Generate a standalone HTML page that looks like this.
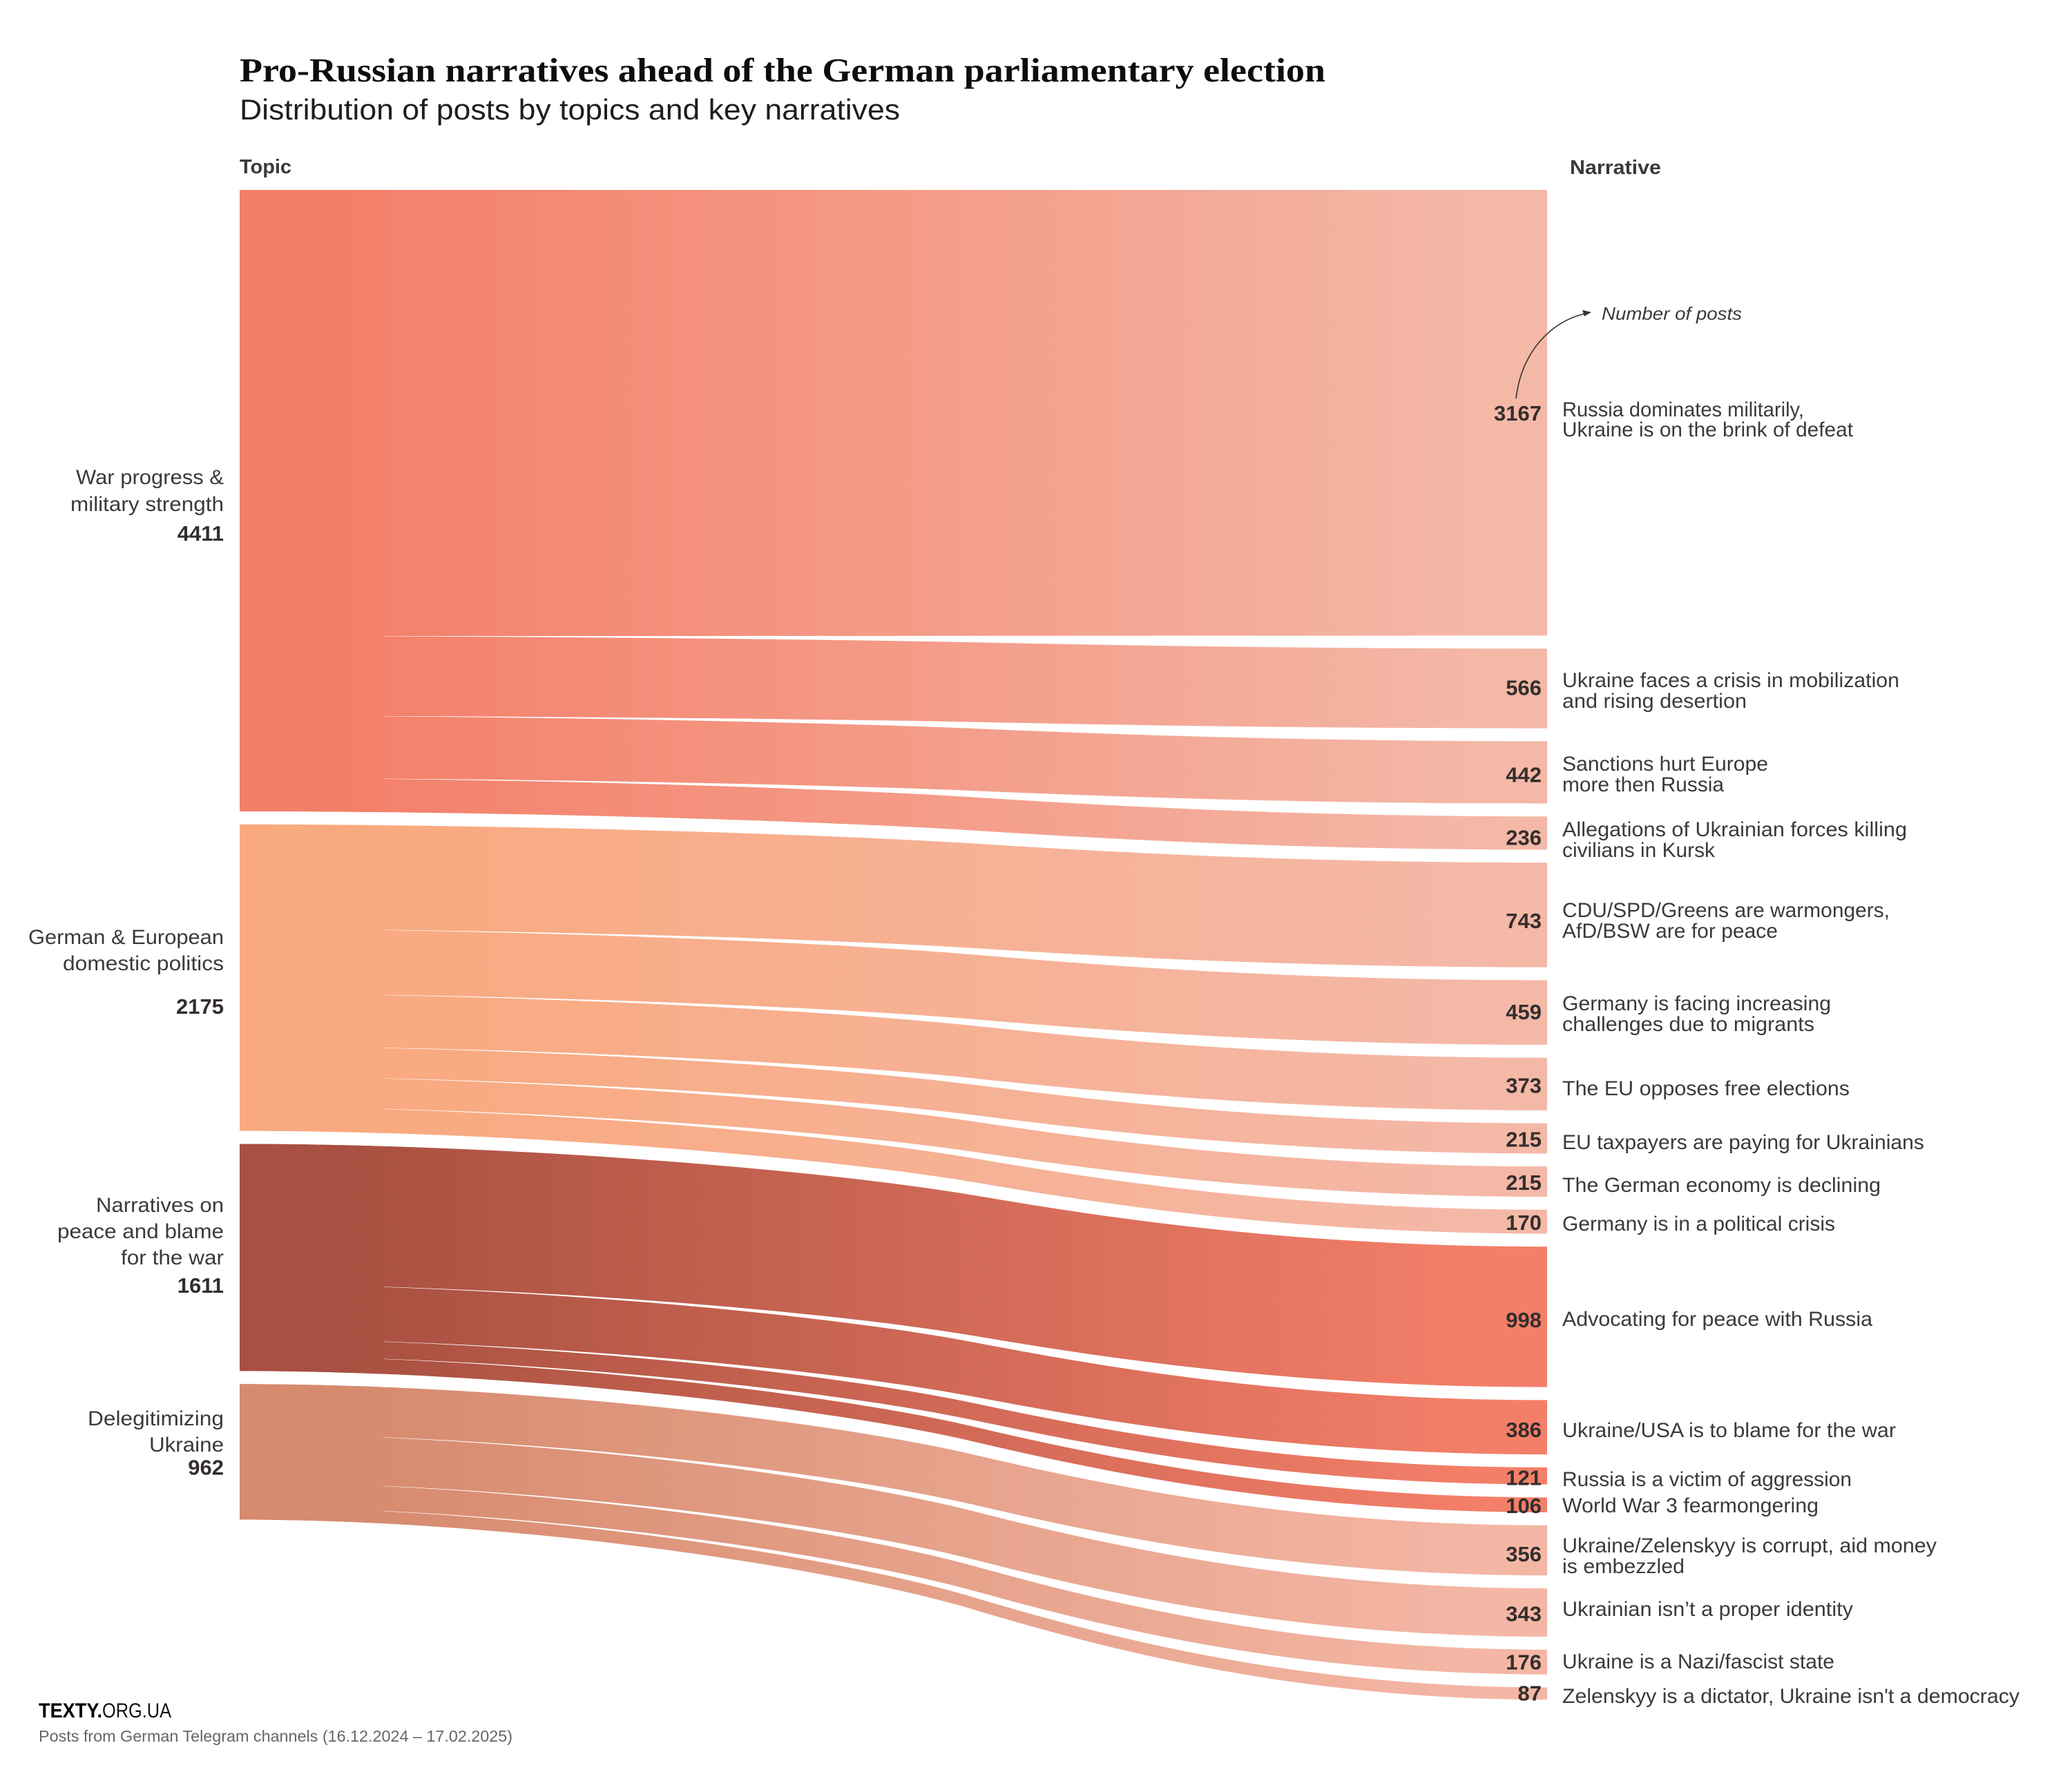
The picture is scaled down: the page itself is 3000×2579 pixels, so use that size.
<!DOCTYPE html>
<html lang="en">
<head>
<meta charset="utf-8">
<title>Pro-Russian narratives ahead of the German parliamentary election</title>
<style>
html,body{margin:0;padding:0;background:#fff;}
svg{display:block;}
text{font-family:"Liberation Sans",sans-serif;fill:#3a3a3a;}
.nar{font-size:29.5px;}
.topic{font-size:30px;text-anchor:end;}
.val{font-size:31px;font-weight:700;text-anchor:end;fill:#332e2c;}
</style>
</head>
<body>
<svg id="chart" xmlns="http://www.w3.org/2000/svg" width="3000" height="2579" viewBox="0 0 3000 2579">
  <defs>
    <clipPath id="node-clip"><rect x="340" y="200" width="215" height="2300"/></clipPath>
    <linearGradient id="grad-0" gradientUnits="userSpaceOnUse" x1="347" y1="0" x2="2240" y2="0">
      <stop offset="0.08" stop-color="#f47f69"/><stop offset="0.95" stop-color="#f4b8a7"/>
    </linearGradient>
    <linearGradient id="grad-1" gradientUnits="userSpaceOnUse" x1="347" y1="0" x2="2240" y2="0">
      <stop offset="0.08" stop-color="#f9a97e"/><stop offset="0.95" stop-color="#f4b8a7"/>
    </linearGradient>
    <linearGradient id="grad-2" gradientUnits="userSpaceOnUse" x1="347" y1="0" x2="2240" y2="0">
      <stop offset="0.08" stop-color="#a85041"/><stop offset="0.95" stop-color="#f47f69"/>
    </linearGradient>
    <linearGradient id="grad-3" gradientUnits="userSpaceOnUse" x1="347" y1="0" x2="2240" y2="0">
      <stop offset="0.08" stop-color="#d68a6e"/><stop offset="0.95" stop-color="#f4b7a5"/>
    </linearGradient>
  </defs>

  <text x="347" y="118" font-size="48.5" font-weight="700" textLength="1572" lengthAdjust="spacingAndGlyphs" style="font-family:'Liberation Serif',serif;fill:#0d0d0d">Pro-Russian narratives ahead of the German parliamentary election</text>
  <text x="347" y="173" font-size="42" textLength="956" lengthAdjust="spacingAndGlyphs" style="fill:#1e1e1e">Distribution of posts by topics and key narratives</text>
  <text x="347" y="251" font-size="29" font-weight="700" textLength="75" lengthAdjust="spacingAndGlyphs">Topic</text>
  <text x="2273" y="252" font-size="29" font-weight="700" textLength="132" lengthAdjust="spacingAndGlyphs">Narrative</text>

  <g id="links"></g>
  <g id="nodes" clip-path="url(#node-clip)"></g>
  <g id="values"></g>

  <g>
    <text class="topic" x="324" y="701" textLength="214" lengthAdjust="spacingAndGlyphs">War progress &amp;</text>
    <text class="topic" x="324" y="740" textLength="222" lengthAdjust="spacingAndGlyphs">military strength</text>
    <text class="topic" x="324" y="1367" textLength="283" lengthAdjust="spacingAndGlyphs">German &amp; European</text>
    <text class="topic" x="324" y="1405" textLength="233" lengthAdjust="spacingAndGlyphs">domestic politics</text>
    <text class="topic" x="324" y="1755" textLength="185" lengthAdjust="spacingAndGlyphs">Narratives on</text>
    <text class="topic" x="324" y="1793" textLength="241" lengthAdjust="spacingAndGlyphs">peace and blame</text>
    <text class="topic" x="324" y="1831" textLength="149" lengthAdjust="spacingAndGlyphs">for the war</text>
    <text class="topic" x="324" y="2064" textLength="197" lengthAdjust="spacingAndGlyphs">Delegitimizing</text>
    <text class="topic" x="324" y="2102" textLength="108" lengthAdjust="spacingAndGlyphs">Ukraine</text>
  </g>

  <g>
    <text class="nar" x="2262" y="603" textLength="350" lengthAdjust="spacingAndGlyphs">Russia dominates militarily,</text>
    <text class="nar" x="2262" y="632" textLength="421" lengthAdjust="spacingAndGlyphs">Ukraine is on the brink of defeat</text>
    <text class="nar" x="2262" y="995" textLength="488" lengthAdjust="spacingAndGlyphs">Ukraine faces a crisis in mobilization</text>
    <text class="nar" x="2262" y="1025" textLength="267" lengthAdjust="spacingAndGlyphs">and rising desertion</text>
    <text class="nar" x="2262" y="1116" textLength="298" lengthAdjust="spacingAndGlyphs">Sanctions hurt Europe</text>
    <text class="nar" x="2262" y="1146" textLength="234" lengthAdjust="spacingAndGlyphs">more then Russia</text>
    <text class="nar" x="2262" y="1211" textLength="499" lengthAdjust="spacingAndGlyphs">Allegations of Ukrainian forces killing</text>
    <text class="nar" x="2262" y="1241" textLength="221" lengthAdjust="spacingAndGlyphs">civilians in Kursk</text>
    <text class="nar" x="2262" y="1328" textLength="474" lengthAdjust="spacingAndGlyphs">CDU/SPD/Greens are warmongers,</text>
    <text class="nar" x="2262" y="1358" textLength="312" lengthAdjust="spacingAndGlyphs">AfD/BSW are for peace</text>
    <text class="nar" x="2262" y="1463" textLength="389" lengthAdjust="spacingAndGlyphs">Germany is facing increasing</text>
    <text class="nar" x="2262" y="1493" textLength="365" lengthAdjust="spacingAndGlyphs">challenges due to migrants</text>
    <text class="nar" x="2262" y="1586" textLength="416" lengthAdjust="spacingAndGlyphs">The EU opposes free elections</text>
    <text class="nar" x="2262" y="1664" textLength="524" lengthAdjust="spacingAndGlyphs">EU taxpayers are paying for Ukrainians</text>
    <text class="nar" x="2262" y="1726" textLength="461" lengthAdjust="spacingAndGlyphs">The German economy is declining</text>
    <text class="nar" x="2262" y="1782" textLength="395" lengthAdjust="spacingAndGlyphs">Germany is in a political crisis</text>
    <text class="nar" x="2262" y="1920" textLength="449" lengthAdjust="spacingAndGlyphs">Advocating for peace with Russia</text>
    <text class="nar" x="2262" y="2081" textLength="483" lengthAdjust="spacingAndGlyphs">Ukraine/USA is to blame for the war</text>
    <text class="nar" x="2262" y="2152" textLength="419" lengthAdjust="spacingAndGlyphs">Russia is a victim of aggression</text>
    <text class="nar" x="2262" y="2190" textLength="371" lengthAdjust="spacingAndGlyphs">World War 3 fearmongering</text>
    <text class="nar" x="2262" y="2248" textLength="542" lengthAdjust="spacingAndGlyphs">Ukraine/Zelenskyy is corrupt, aid money</text>
    <text class="nar" x="2262" y="2278" textLength="177" lengthAdjust="spacingAndGlyphs">is embezzled</text>
    <text class="nar" x="2262" y="2340" textLength="421" lengthAdjust="spacingAndGlyphs">Ukrainian isn’t a proper identity</text>
    <text class="nar" x="2262" y="2416" textLength="394" lengthAdjust="spacingAndGlyphs">Ukraine is a Nazi/fascist state</text>
    <text class="nar" x="2262" y="2466" textLength="662" lengthAdjust="spacingAndGlyphs">Zelenskyy is a dictator, Ukraine isn't a democracy</text>
  </g>

  <g>
    <path d="M2195 577 C2203 510 2245 465 2296 454" fill="none" stroke="#333" stroke-width="1.6"/>
    <path d="M2304 452 L2291 449 L2294 458 Z" fill="#333"/>
    <text x="2319" y="463" font-size="26" font-style="italic" textLength="203" lengthAdjust="spacingAndGlyphs">Number of posts</text>
  </g>

  <g>
    <text x="56" y="2487" font-size="30" font-weight="700" textLength="92" lengthAdjust="spacingAndGlyphs" style="fill:#000">TEXTY.</text>
    <text x="148" y="2487" font-size="30" textLength="100" lengthAdjust="spacingAndGlyphs" style="fill:#111">ORG.UA</text>
    <text x="56" y="2522" font-size="23" textLength="686" lengthAdjust="spacingAndGlyphs" style="fill:#666">Posts from German Telegram channels (16.12.2024 – 17.02.2025)</text>
  </g>
</svg>

<script>
// Chart data
const topicNames = ["War progress & military strength", "German & European domestic politics", "Narratives on peace and blame for the war", "Delegitimizing Ukraine"];
const topicTotals = [4411, 2175, 1611, 962];
const warValues = [3167, 566, 442, 236];
const politicsValues = [743, 459, 373, 215, 215, 170];
const peaceValues = [998, 386, 121, 106];
const delegitimizingValues = [356, 343, 176, 87];
const topicSeries = [warValues, politicsValues, peaceValues, delegitimizingValues];

// Layout (not data)
const SCALE_LEFT = 0.204, SCALE_RIGHT = 0.2038, GAP_LEFT = 19, GAP_RIGHT = 18.8, X0 = 347, X1 = 2240, TOP = 275;
const xPos = function (f) { return (X0 + (X1 - X0) * f).toFixed(1); };
const valueNudge = [0.5, -1.5, 3, 6, 8, -1, 2, 1, 1, 1, 4, 3, 2.5, 1, 5, 1.5, 0, -1];
const totalNudge = [58, 52.5, 51, 33];
const NS = "http://www.w3.org/2000/svg";

function edge(y0, y1, reverse) {
  const yy = function (f) { return (y0 + (y1 - y0) * f).toFixed(2); };
  if (!reverse) {
    return "C" + xPos(0.2) + " " + yy(0) + " " + xPos(0.4416) + " " + yy(0.242) + " " + xPos(0.5616) + " " + yy(0.5) +
           "C" + xPos(0.6516) + " " + yy(0.6935) + " " + xPos(0.8) + " " + yy(1) + " " + xPos(1) + " " + yy(1);
  }
  return "C" + xPos(0.8) + " " + yy(1) + " " + xPos(0.6516) + " " + yy(0.6935) + " " + xPos(0.5616) + " " + yy(0.5) +
         "C" + xPos(0.4416) + " " + yy(0.242) + " " + xPos(0.2) + " " + yy(0) + " " + xPos(0) + " " + yy(0);
}

const linksGroup = document.getElementById("links");
const nodesGroup = document.getElementById("nodes");
const valuesGroup = document.getElementById("values");
let leftNodeTop = TOP, rightY = TOP, narrativeIndex = 0;

topicSeries.forEach(function (series, t) {
  let leftY = leftNodeTop;
  const rightTop = rightY;
  let rightBottom = rightY;
  series.forEach(function (value) {
    const hL = value * SCALE_LEFT;
    const hR = value * SCALE_RIGHT;
    const link = document.createElementNS(NS, "path");
    link.setAttribute("d", "M" + X0 + " " + leftY.toFixed(2) + edge(leftY, rightY, false) +
      "L" + X1 + " " + (rightY + hR).toFixed(2) + edge(leftY + hL, rightY + hR, true) + "Z");
    link.setAttribute("fill", "url(#grad-" + t + ")");
    
    
    linksGroup.appendChild(link);

    const label = document.createElementNS(NS, "text");
    label.setAttribute("class", "val");
    label.setAttribute("x", 2232);
    label.setAttribute("y", (rightY + hR / 2 + valueNudge[narrativeIndex] + 11).toFixed(1));
    label.textContent = value;
    
    
    valuesGroup.appendChild(label);

    leftY += hL;
    rightBottom = rightY + hR;
    rightY += hR + GAP_RIGHT;
    narrativeIndex += 1;
  });

  const node = document.createElementNS(NS, "path");
  node.setAttribute("d", "M" + X0 + " " + leftNodeTop.toFixed(2) + edge(leftNodeTop, rightTop, false) +
    "L" + X1 + " " + rightBottom.toFixed(2) + edge(leftY, rightBottom, true) + "Z");
  node.setAttribute("fill", "url(#grad-" + t + ")");
  
  
  nodesGroup.appendChild(node);

  const nodeCenter = (leftNodeTop + leftY) / 2;
  const total = document.createElementNS(NS, "text");
  total.setAttribute("class", "val");
  total.setAttribute("x", 324);
  total.setAttribute("y", (nodeCenter + totalNudge[t]).toFixed(1));
  total.textContent = topicTotals[t];
  
  
  valuesGroup.appendChild(total);
  leftNodeTop = leftY + GAP_LEFT;
});
</script>
</body>
</html>
